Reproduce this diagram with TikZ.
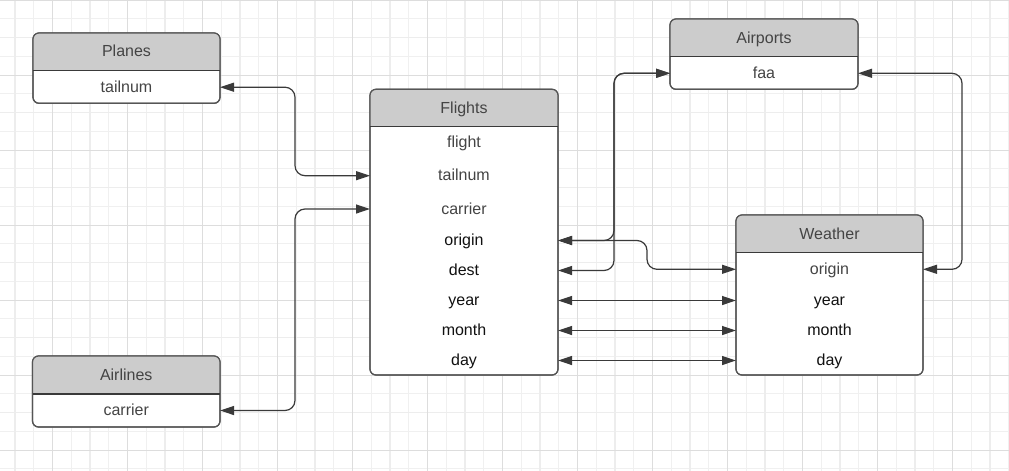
\documentclass[tikz,border=0pt]{standalone}
\usepackage{fontspec}
\setmainfont{Liberation Sans}
\usetikzlibrary{arrows.meta}
\definecolor{hdr}{HTML}{CCCCCC}
\definecolor{bordc}{HTML}{555555}
\definecolor{linec}{HTML}{3A3A3A}
\definecolor{tgray}{HTML}{444444}
\definecolor{tblack}{HTML}{111111}
\definecolor{gminc}{HTML}{F0F0F0}
\definecolor{gmidc}{HTML}{EDEDED}
\definecolor{gmajc}{HTML}{DDDDDD}
\newcommand\ertbl[7]{%
  \node[tblbox, minimum width={#4-#2}, minimum height={#6-#3}, anchor=north west] (#1) at (#2,#3) {};
  \begin{scope}
    \clip[rounded corners=6pt] (#2,#3) rectangle (#4,#6);
    \fill[hdr] (#2,#3) rectangle (#4,#5);
  \end{scope}
  \draw[tblborder] (#2,#3) rectangle (#4,#6);
  \draw[divider] (#2,#5) -- (#4,#5);
  \node[field, text=tgray, minimum width={#4-#2}] (#1-title) at ({(#2+#4)/2},{(#3+#5)/2}) {#7};
}
\begin{document}
\begin{tikzpicture}[x=1pt,y=-1pt,
  tblbox/.style={draw=bordc, line width=1.2pt, fill=white, rounded corners=6pt, inner sep=0pt, outer sep=0pt},
  tblborder/.style={draw=bordc, line width=1.2pt, rounded corners=6pt},
  divider/.style={draw=linec, line width=1.3pt},
  field/.style={inner sep=0pt, outer sep=0pt, text height=10.5pt, text depth=0pt, font=\fontsize{16}{18}\selectfont},
  conn/.style={draw=linec, line width=1.2pt, rounded corners=10pt,
    {Triangle[length=14pt,width=9pt]}-{Triangle[length=14pt,width=9pt]}},
  gmin/.style={draw=gminc, line width=0.8pt},
  gmid/.style={draw=gmidc, line width=1.6pt},
  gmaj/.style={draw=gmajc, line width=1pt}]
\useasboundingbox (0,0) rectangle (1009,471);
\fill[white] (0,0) rectangle (1009,471);
% grid
\foreach \i in {0,...,53} \draw[gmin] ({15+18.75*\i},0) -- ++(0,471);
\foreach \i in {0,...,25} \draw[gmin] (0,{18.75*\i}) -- ++(1009,0);
\foreach \i in {0,...,13} \draw[gmid] ({15+75*\i},0) -- ++(0,471);
\foreach \i in {0,...,6} \draw[gmid] (0,{37.5+75*\i}) -- ++(1009,0);
\foreach \i in {0,...,12} \draw[gmaj] ({52.5+75*\i},0) -- ++(0,471);
\foreach \i in {0,...,6} \draw[gmaj] (0,{75*\i}) -- ++(1009,0);
% tables
\ertbl{planes}{33}{33}{220}{70.3}{103.3}{Planes}
\node[field, text=tgray, minimum width=187pt] (p-tailnum) at (126.5,87.2) {tailnum};
\ertbl{airlines}{32.5}{356}{220}{394}{427}{Airlines}
\node[field, text=tgray, minimum width=187.5pt] (l-carrier) at (126.25,410.5) {carrier};
\ertbl{flights}{370}{89.3}{558}{126.7}{375}{Flights}
\node[field, text=tgray, minimum width=188pt] (f-flight) at (464,142.5) {flight};
\node[field, text=tgray, minimum width=188pt] (f-tailnum) at (464,175.7) {tailnum};
\node[field, text=tgray, minimum width=188pt] (f-carrier) at (464,209) {carrier};
\node[field, text=tblack, minimum width=188pt] (f-origin) at (464,240.5) {origin};
\node[field, text=tblack, minimum width=188pt] (f-dest) at (464,270.5) {dest};
\node[field, text=tblack, minimum width=188pt] (f-year) at (464,300.5) {year};
\node[field, text=tblack, minimum width=188pt] (f-month) at (464,330.5) {month};
\node[field, text=tblack, minimum width=188pt] (f-day) at (464,360.5) {day};
\ertbl{airports}{670}{19}{858}{56.7}{89.3}{Airports}
\node[field, text=tgray, minimum width=188pt] (a-faa) at (764,73.3) {faa};
\ertbl{weather}{736}{215}{923}{252.7}{375}{Weather}
\node[field, text=tgray, minimum width=187pt] (w-origin) at (829.5,269.3) {origin};
\node[field, text=tblack, minimum width=187pt] (w-year) at (829.5,300.5) {year};
\node[field, text=tblack, minimum width=187pt] (w-month) at (829.5,330.5) {month};
\node[field, text=tblack, minimum width=187pt] (w-day) at (829.5,360.5) {day};
% routing coordinates
\coordinate (xa) at (295,0);
\coordinate (xb) at (614,0);
\coordinate (xc) at (647,0);
\coordinate (xd) at (962,0);
% connectors
\draw[conn] (p-tailnum.east) -- (p-tailnum.east -| xa) -- (f-tailnum.west -| xa) -- (f-tailnum.west);
\draw[conn] (l-carrier.east) -- (l-carrier.east -| xa) -- (f-carrier.west -| xa) -- (f-carrier.west);
\draw[conn] (a-faa.west) -- (a-faa.west -| xb) -- (f-origin.east -| xb) -- (f-origin.east);
\draw[conn] (a-faa.west) -- (a-faa.west -| xb) -- (f-dest.east -| xb) -- (f-dest.east);
\draw[conn] (f-origin.east) -- (f-origin.east -| xc) -- (w-origin.west -| xc) -- (w-origin.west);
\draw[conn] (a-faa.east) -- (a-faa.east -| xd) -- (w-origin.east -| xd) -- (w-origin.east);
\draw[conn] (f-year.east) -- (w-year.west);
\draw[conn] (f-month.east) -- (w-month.west);
\draw[conn] (f-day.east) -- (w-day.west);
\end{tikzpicture}
\end{document}
